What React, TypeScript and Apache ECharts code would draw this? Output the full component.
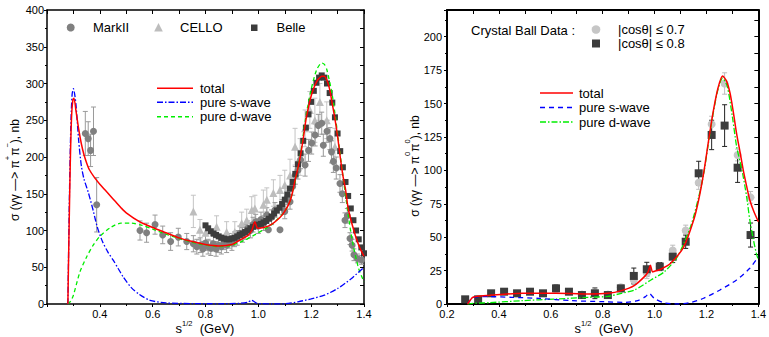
import React, { useEffect, useRef } from 'react';
import * as echarts from 'echarts';

const FONT = '"Liberation Sans", Arial, sans-serif';

// ---------------- Left panel: gamma gamma -> pi+ pi- ----------------
const lTotalX = [0.279, 0.283, 0.288, 0.293, 0.298, 0.302, 0.31, 0.32, 0.33, 0.34, 0.35, 0.36, 0.38, 0.40, 0.42, 0.44, 0.46, 0.48, 0.50, 0.55, 0.60, 0.65, 0.70, 0.75, 0.80, 0.85, 0.90, 0.93, 0.96, 0.975, 0.987, 0.995, 1.00, 1.02, 1.044, 1.08, 1.10, 1.12, 1.13, 1.14, 1.15, 1.16, 1.17, 1.18, 1.19, 1.20, 1.21, 1.22, 1.23, 1.24, 1.25, 1.26, 1.27, 1.28, 1.29, 1.30, 1.31, 1.32, 1.33, 1.34, 1.35, 1.36, 1.37, 1.38, 1.39, 1.40];
const lTotalY = [0, 90, 190, 255, 278, 280, 262, 238, 218, 203, 192, 183, 172, 163, 155, 147, 139, 131, 124, 112, 104, 97, 90, 85, 81, 79, 81, 87, 93, 100, 112, 104, 103, 104, 107, 117, 126, 140, 153, 170, 185, 203, 225, 250, 268, 283, 294, 302, 307, 310, 310, 304, 292, 272, 252, 228, 200, 175, 156, 130, 115, 102, 90, 80, 72, 65];

const lSwaveX = [0.279, 0.285, 0.29, 0.295, 0.30, 0.305, 0.31, 0.32, 0.33, 0.34, 0.357, 0.375, 0.39, 0.41, 0.43, 0.45, 0.47, 0.49, 0.52, 0.55, 0.59, 0.65, 0.75, 0.85, 0.93, 0.96, 0.975, 0.985, 0.995, 1.01, 1.05, 1.10, 1.15, 1.20, 1.25, 1.30, 1.35, 1.40];
const lSwaveY = [0, 150, 240, 285, 293, 285, 270, 222, 188, 170, 151, 127, 105, 85, 71, 60, 48, 36, 22, 13, 5, 1.5, 0.5, 0.3, 1, 2.5, 5, 3, 1, 0.5, 0, 0.3, 3, 7, 12, 21, 34, 50];

const lDwaveX = [0.279, 0.29, 0.30, 0.325, 0.35, 0.375, 0.40, 0.44, 0.48, 0.52, 0.56, 0.60, 0.65, 0.70, 0.75, 0.80, 0.85, 0.90, 0.95, 1.00, 1.05, 1.10, 1.12, 1.14, 1.16, 1.18, 1.20, 1.22, 1.24, 1.25, 1.26, 1.28, 1.30, 1.32, 1.34, 1.35, 1.36, 1.38, 1.40];
const lDwaveY = [0, 4, 12, 44, 64, 80, 92, 104, 110, 110, 107, 102, 95, 89, 84, 80, 78, 80, 87, 97, 108, 126, 140, 168, 205, 255, 292, 318, 328, 326, 318, 284, 232, 175, 122, 98, 78, 48, 30];

const markIIX = [0.345, 0.356, 0.365, 0.376, 0.388, 0.552, 0.577, 0.609, 0.638, 0.668,
  0.697, 0.729, 0.754, 0.767, 0.78, 0.79, 0.80, 0.81, 0.82, 0.83,
  0.84, 0.85, 0.86, 0.87, 0.88, 0.89, 0.90, 0.91, 0.92, 0.93,
  0.94, 0.95, 0.96, 0.97, 0.98, 0.99, 1.00, 1.01, 1.02, 1.032,
  1.038, 1.05, 1.063, 1.082, 1.09, 1.10, 1.11, 1.12, 1.13, 1.14,
  1.15, 1.16, 1.177, 1.19, 1.202, 1.215, 1.227, 1.24, 1.246, 1.26,
  1.271, 1.277, 1.284, 1.295, 1.309, 1.318, 1.328, 1.337, 1.347, 1.355,
  1.362, 1.375, 1.391];
const markIIY = [232, 225, 209, 235, 135, 100, 97, 108, 94, 85,
  91, 85, 82, 78, 80, 75, 83, 78, 76, 82,
  75, 80, 78, 84, 80, 86, 83, 88, 90, 96,
  94, 98, 103, 100, 108, 112, 106, 115, 110, 121,
  101, 118, 128, 101, 132, 126, 145, 139, 160, 175,
  182, 196, 189, 209, 219, 230, 243, 246, 216, 235,
  225, 207, 194, 185, 164, 150, 114, 120, 89, 80,
  67, 62, 60];
const markIIE = [30, 23, 22, 33, 37, 13, 13, 13, 12, 12,
  12, 11, 11, 10, 10, 10, 10, 10, 10, 10,
  10, 10, 10, 10, 10, 10, 10, 10, 10, 10,
  10, 10, 10, 10, 10, 10, 10, 10, 10, 10,
  0, 10, 10, 0, 10, 10, 10, 10, 12, 12,
  12, 12, 15, 15, 15, 15, 15, 15, 15, 15,
  15, 15, 15, 15, 12, 12, 10, 10, 8, 8,
  8, 6, 6];

const celloX = [0.754, 0.779, 0.80, 0.842, 0.88, 0.911, 0.937, 0.956, 0.975, 0.987,
  1.019, 1.032, 1.057, 1.082, 1.10, 1.12, 1.139, 1.158, 1.177, 1.195,
  1.214, 1.233, 1.259, 1.29];
const celloY = [126, 101, 97, 105, 98, 98, 110, 114, 128, 130,
  135, 142, 151, 155, 162, 175, 214, 200, 239, 264,
  250, 275, 250, 214];
const celloE = [22, 14, 12, 15, 14, 14, 15, 15, 18, 18,
  20, 16, 18, 20, 20, 22, 25, 25, 25, 25,
  30, 25, 25, 25];

const belleX = [0.80, 0.81, 0.82, 0.83, 0.84, 0.85, 0.86, 0.87, 0.88, 0.89,
  0.90, 0.91, 0.92, 0.93, 0.94, 0.95, 0.96, 0.97, 0.98, 0.99,
  1.00, 1.01, 1.02, 1.03, 1.04, 1.05, 1.06, 1.07, 1.08, 1.09,
  1.10, 1.11, 1.12, 1.13, 1.14, 1.15, 1.16, 1.17, 1.18, 1.19,
  1.20, 1.21, 1.22, 1.23, 1.24, 1.25, 1.26, 1.27, 1.28, 1.29,
  1.30, 1.31, 1.32, 1.33, 1.34, 1.35, 1.36, 1.37, 1.38, 1.39, 1.40];
const belleY = [107, 103, 99, 96, 94, 92, 90, 89, 88, 88,
  89, 90, 92, 94, 96, 98, 100, 103, 105, 107,
  108, 109, 111, 113, 116, 119, 123, 127, 131, 136,
  142, 149, 157, 166, 177, 190, 205, 222, 240, 258,
  275, 290, 301, 308, 311, 308, 300, 287, 274, 254,
  232, 208, 186, 166, 147, 130, 114, 100, 88, 77, 69];

// ---------------- Right panel: gamma gamma -> pi0 pi0 ----------------
const rTotalX = [0.279, 0.29, 0.30, 0.33, 0.364, 0.42, 0.49, 0.55, 0.618, 0.68, 0.745, 0.82, 0.872, 0.923, 0.961, 0.975, 0.984, 0.992, 1.00, 1.024, 1.062, 1.113, 1.151, 1.17, 1.189, 1.208, 1.227, 1.245, 1.262, 1.277, 1.291, 1.304, 1.316, 1.33, 1.342, 1.355, 1.367, 1.383, 1.40];
const rTotalY = [0, 3, 5, 6, 6.5, 7.3, 8, 8, 8, 7.8, 7.5, 8, 10, 14, 20.5, 24, 29, 24, 24.5, 26, 30.5, 43, 63, 78, 97.8, 122, 145, 162, 170.6, 167, 157.7, 143, 127.7, 113, 100, 88, 77.8, 69, 61.6];

const rSwaveX = [0.279, 0.29, 0.30, 0.364, 0.45, 0.554, 0.681, 0.808, 0.884, 0.935, 0.965, 0.98, 0.99, 1.00, 1.04, 1.09, 1.139, 1.189, 1.252, 1.316, 1.367, 1.40];
const rSwaveY = [0, 3, 5, 5.5, 5, 4.2, 2.5, 1.7, 1.2, 2.5, 5.5, 8, 6, 4, 0.7, 0, 1.2, 4.3, 10.5, 18, 26.7, 35.4];

const rDwaveX = [0.279, 0.30, 0.364, 0.49, 0.618, 0.745, 0.82, 0.872, 0.923, 0.986, 1.037, 1.088, 1.139, 1.17, 1.189, 1.208, 1.227, 1.245, 1.262, 1.28, 1.30, 1.316, 1.33, 1.342, 1.355, 1.367, 1.38, 1.392, 1.40];
const rDwaveY = [0, 0.5, 1, 2.5, 3.7, 5, 5.7, 8, 10.5, 18, 24, 35.4, 58, 80, 97, 121, 144, 161, 169, 163, 140, 118, 106, 95, 80, 63, 49, 38, 33];

const cb08X = [0.27, 0.32, 0.37, 0.42, 0.47, 0.52, 0.57, 0.62, 0.67, 0.72, 0.77, 0.82, 0.87, 0.92, 0.97, 1.02, 1.07, 1.12, 1.17, 1.22, 1.27, 1.32, 1.37];
const cb08Y = [3.5, 3.5, 8, 9.2, 8, 9.2, 8, 11.7, 9.2, 6.7, 8, 6.7, 11.7, 21, 26, 28, 35.4, 46.6, 97.8, 126.5, 133.5, 102, 51.6];
const cb08E = [1.5, 1.5, 2, 1.5, 1.5, 1.5, 1.5, 2.5, 1.5, 1.5, 4, 1.5, 2.5, 5.9, 5.2, 3, 4.4, 5, 9, 11, 15.6, 11, 9];

const cb07X = [0.72, 0.77, 0.82, 0.87, 0.92, 0.97, 1.02, 1.07, 1.12, 1.17, 1.22, 1.27, 1.32, 1.37];
const cb07Y = [7, 8.5, 7, 12.5, 18, 23, 28, 40, 55, 90.8, 134.5, 165, 111.5, 79.8];
const cb07E = [1.5, 1.5, 1.5, 2, 3, 4, 3, 4, 4, 5, 6, 8, 4.4, 4.4];

// ---------------- helpers ----------------
const pairs = (xs: number[], ys: number[]) => xs.map((x, i) => [x, ys[i]]);

function errBars(xs: number[], ys: number[], es: number[], color: string, xi: number, yi: number) {
  return {
    type: 'custom',
    xAxisIndex: xi,
    yAxisIndex: yi,
    silent: true,
    clip: true,
    data: xs.map((x, i) => [x, ys[i] - es[i], ys[i] + es[i]]).filter((d, i) => es[i] > 0),
    encode: { x: 0, y: [1, 2] },
    renderItem: (params: any, api: any) => {
      const x = api.value(0);
      const p1 = api.coord([x, api.value(1)]);
      const p2 = api.coord([x, api.value(2)]);
      const w = 2.5;
      const st = { stroke: color, lineWidth: 1 };
      return {
        type: 'group',
        children: [
          { type: 'line', shape: { x1: p1[0], y1: p1[1], x2: p2[0], y2: p2[1] }, style: st },
          { type: 'line', shape: { x1: p1[0] - w, y1: p1[1], x2: p1[0] + w, y2: p1[1] }, style: st },
          { type: 'line', shape: { x1: p2[0] - w, y1: p2[1], x2: p2[0] + w, y2: p2[1] }, style: st },
        ],
      };
    },
  };
}

function scatter(xs: number[], ys: number[], symbol: string, size: number, color: string, xi: number, yi: number) {
  return {
    type: 'scatter',
    xAxisIndex: xi,
    yAxisIndex: yi,
    symbol,
    symbolSize: size,
    itemStyle: { color, opacity: 1 },
    data: pairs(xs, ys),
    silent: true,
  };
}

function curve(xs: number[], ys: number[], color: string, type: any, width: number, xi: number, yi: number) {
  return {
    type: 'line',
    xAxisIndex: xi,
    yAxisIndex: yi,
    showSymbol: false,
    symbol: 'none',
    smooth: 0.25,
    lineStyle: { color, width, type },
    data: pairs(xs, ys),
    silent: true,
  };
}

const labelStyle = { fontFamily: FONT, fontSize: 11, color: '#000' };

function xBottom(gridIndex: number, hideMin: boolean, lw: number) {
  return {
    type: 'value', gridIndex, position: 'bottom', min: 0.2, max: 1.4, interval: 0.2,
    axisLine: { show: true, onZero: false, lineStyle: { color: '#000', width: lw } },
    axisTick: { show: true, inside: false, length: 3, lineStyle: { color: '#000' } },
    minorTick: { show: true, splitNumber: 2, length: 2, lineStyle: { color: '#000' } },
    splitLine: { show: false },
    axisLabel: {
      ...labelStyle, margin: 4,
      formatter: (v: number) => (hideMin && Math.abs(v - 0.2) < 1e-6 ? '' : v.toFixed(1)),
    },
  };
}
function xTop(gridIndex: number, lw: number) {
  return {
    type: 'value', gridIndex, position: 'top', min: 0.2, max: 1.4, interval: 0.1,
    axisLine: { show: true, onZero: false, lineStyle: { color: '#000', width: lw } },
    axisTick: { show: true, inside: true, length: 4, lineStyle: { color: '#000' } },
    splitLine: { show: false },
    axisLabel: { show: false },
  };
}
function yLeft(gridIndex: number, max: number, interval: number, lw: number, margin: number) {
  return {
    type: 'value', gridIndex, position: 'left', min: 0, max, interval,
    axisLine: { show: true, onZero: false, lineStyle: { color: '#000', width: lw } },
    axisTick: { show: true, inside: false, length: 3, lineStyle: { color: '#000' } },
    minorTick: { show: true, splitNumber: 2, length: 2, lineStyle: { color: '#000' } },
    splitLine: { show: false },
    axisLabel: {
      ...labelStyle, margin,
      formatter: (v: number) => (v % interval === 0 && v <= max - interval / 2 + 1e-6 || v === max && max % interval === 0 ? String(v) : ''),
    },
  };
}
function yRight(gridIndex: number, max: number, interval: number, lw: number) {
  return {
    type: 'value', gridIndex, position: 'right', min: 0, max, interval,
    axisLine: { show: true, onZero: false, lineStyle: { color: '#000', width: lw } },
    axisTick: { show: true, inside: true, length: 4, lineStyle: { color: '#000' } },
    splitLine: { show: false },
    axisLabel: { show: false },
  };
}

function richTitle(x: number, y: number, text: string, rotate: boolean, size: number, lh: number) {
  return {
    type: 'text',
    x, y,
    rotation: rotate ? Math.PI / 2 : 0,
    style: {
      text,
      align: 'center',
      verticalAlign: 'middle',
      fill: '#000',
      rich: {
        a: { fontFamily: FONT, fontSize: size, lineHeight: lh, verticalAlign: 'bottom', fill: '#000' },
        s: { fontFamily: FONT, fontSize: 7.5, lineHeight: 8, verticalAlign: 'top', fill: '#000' },
      },
    },
  };
}

function legendText(x: number, y: number, text: string) {
  return { type: 'text', x, y, style: { text, fontFamily: FONT, fontSize: 13, fill: '#000', align: 'left', verticalAlign: 'middle' } };
}
function legendLine(x1: number, x2: number, y: number, color: string, dash: any) {
  return { type: 'line', shape: { x1, y1: y, x2, y2: y }, style: { stroke: color, lineWidth: 1.5, lineDash: dash } };
}

const DASHDOT = [6, 2, 1.5, 2];
const DASH = [4, 3];
const DASH2 = [5, 4];

const option: any = {
  animation: false,
  backgroundColor: '#ffffff',
  grid: [
    { left: 47, top: 10, width: 317, height: 294 },
    { left: 447, top: 10, width: 315, height: 294 },
  ],
  xAxis: [xBottom(0, true, 1.5), xTop(0, 1.5), xBottom(1, false, 2), xTop(1, 2)],
  yAxis: [yLeft(0, 400, 50, 1.5, 3), yRight(0, 400, 25, 1.5), yLeft(1, 220, 25, 2, 5), yRight(1, 220, 12.5, 2)],
  series: [
    errBars(celloX, celloY, celloE, '#c4c4c4', 0, 0),
    scatter(celloX, celloY, 'triangle', 8, '#bdbdbd', 0, 0),
    errBars(markIIX, markIIY, markIIE, '#9a9a9a', 0, 0),
    scatter(markIIX, markIIY, 'circle', 7, '#808080', 0, 0),
    scatter(belleX, belleY, 'rect', 6, '#3c3c3c', 0, 0),
    curve(lDwaveX, lDwaveY, '#00ee00', DASH, 1.3, 0, 0),
    curve(lSwaveX, lSwaveY, '#0000ff', DASHDOT, 1.3, 0, 0),
    curve(lTotalX, lTotalY, '#ff0000', 'solid', 1.5, 0, 0),

    errBars(cb07X, cb07Y, cb07E, '#bdbdbd', 2, 2),
    scatter(cb07X, cb07Y, 'circle', 8, '#c6c6c6', 2, 2),
    errBars(cb08X, cb08Y, cb08E, '#222222', 2, 2),
    scatter(cb08X, cb08Y, 'rect', 8, '#3c3c3c', 2, 2),
    curve(rDwaveX, rDwaveY, '#00ee00', DASHDOT, 1.3, 2, 2),
    curve(rSwaveX, rSwaveY, '#0000ff', DASH2, 1.3, 2, 2),
    curve(rTotalX, rTotalY, '#ff0000', 'solid', 1.5, 2, 2),
  ],
  graphic: [
    // left data legend
    { type: 'circle', shape: { cx: 70.7, cy: 27.5, r: 4 }, style: { fill: '#808080' } },
    legendText(93, 27.5, 'MarkII'),
    { type: 'polygon', shape: { points: [[158.5, 23], [162.8, 31.5], [154.2, 31.5]] }, style: { fill: '#bdbdbd' } },
    legendText(180, 27.5, 'CELLO'),
    { type: 'rect', shape: { x: 251, y: 24.5, width: 6.5, height: 6.5 }, style: { fill: '#3c3c3c' } },
    legendText(276.5, 27.5, 'Belle'),
    // left curve legend
    legendLine(157, 193, 88.3, '#ff0000', null),
    legendText(200, 88.3, 'total'),
    legendLine(157, 193, 102.3, '#0000ff', DASHDOT),
    legendText(200, 102.3, 'pure s-wave'),
    legendLine(157, 193, 116.7, '#00ee00', DASH),
    legendText(200, 116.7, 'pure d-wave'),
    // right data legend
    legendText(471, 30, 'Crystal Ball Data :'),
    { type: 'circle', shape: { cx: 596, cy: 29.5, r: 4.3 }, style: { fill: '#c6c6c6' } },
    legendText(618, 29.5, '|cosθ| ≤ 0.7'),
    { type: 'rect', shape: { x: 592, y: 39.5, width: 8, height: 8 }, style: { fill: '#3c3c3c' } },
    legendText(618, 43.5, '|cosθ| ≤ 0.8'),
    // right curve legend
    legendLine(540, 573, 93, '#ff0000', null),
    legendText(579, 93, 'total'),
    legendLine(540, 573, 107.5, '#0000ff', DASH2),
    legendText(579, 107.5, 'pure s-wave'),
    legendLine(540, 573, 122, '#00ee00', DASHDOT),
    legendText(579, 122, 'pure d-wave'),
    // axis titles
    richTitle(12, 170, '{a|σ (γγ —> π}{s|+}{a|π}{s|−}{a|), nb}', true, 12, 18),
    richTitle(412, 166, '{a|σ (γγ —> π}{s|0}{a|π}{s|0}{a|), nb}', true, 12, 18),
    richTitle(205, 327, '{a|s}{s|1/2}{a|  (GeV)}', false, 13, 15),
    richTitle(604, 327, '{a|s}{s|1/2}{a|  (GeV)}', false, 13, 15),
  ],
};

export default function App() {
  const ref = useRef<HTMLDivElement>(null);
  useEffect(() => {
    const chart = echarts.init(ref.current as HTMLDivElement, null, { renderer: 'svg' });
    chart.setOption(option);
    return () => chart.dispose();
  }, []);
  return (
    <div
      ref={ref}
      style={{ position: 'absolute', left: 0, top: 0, width: 769, height: 337, background: '#fff' }}
    />
  );
}
